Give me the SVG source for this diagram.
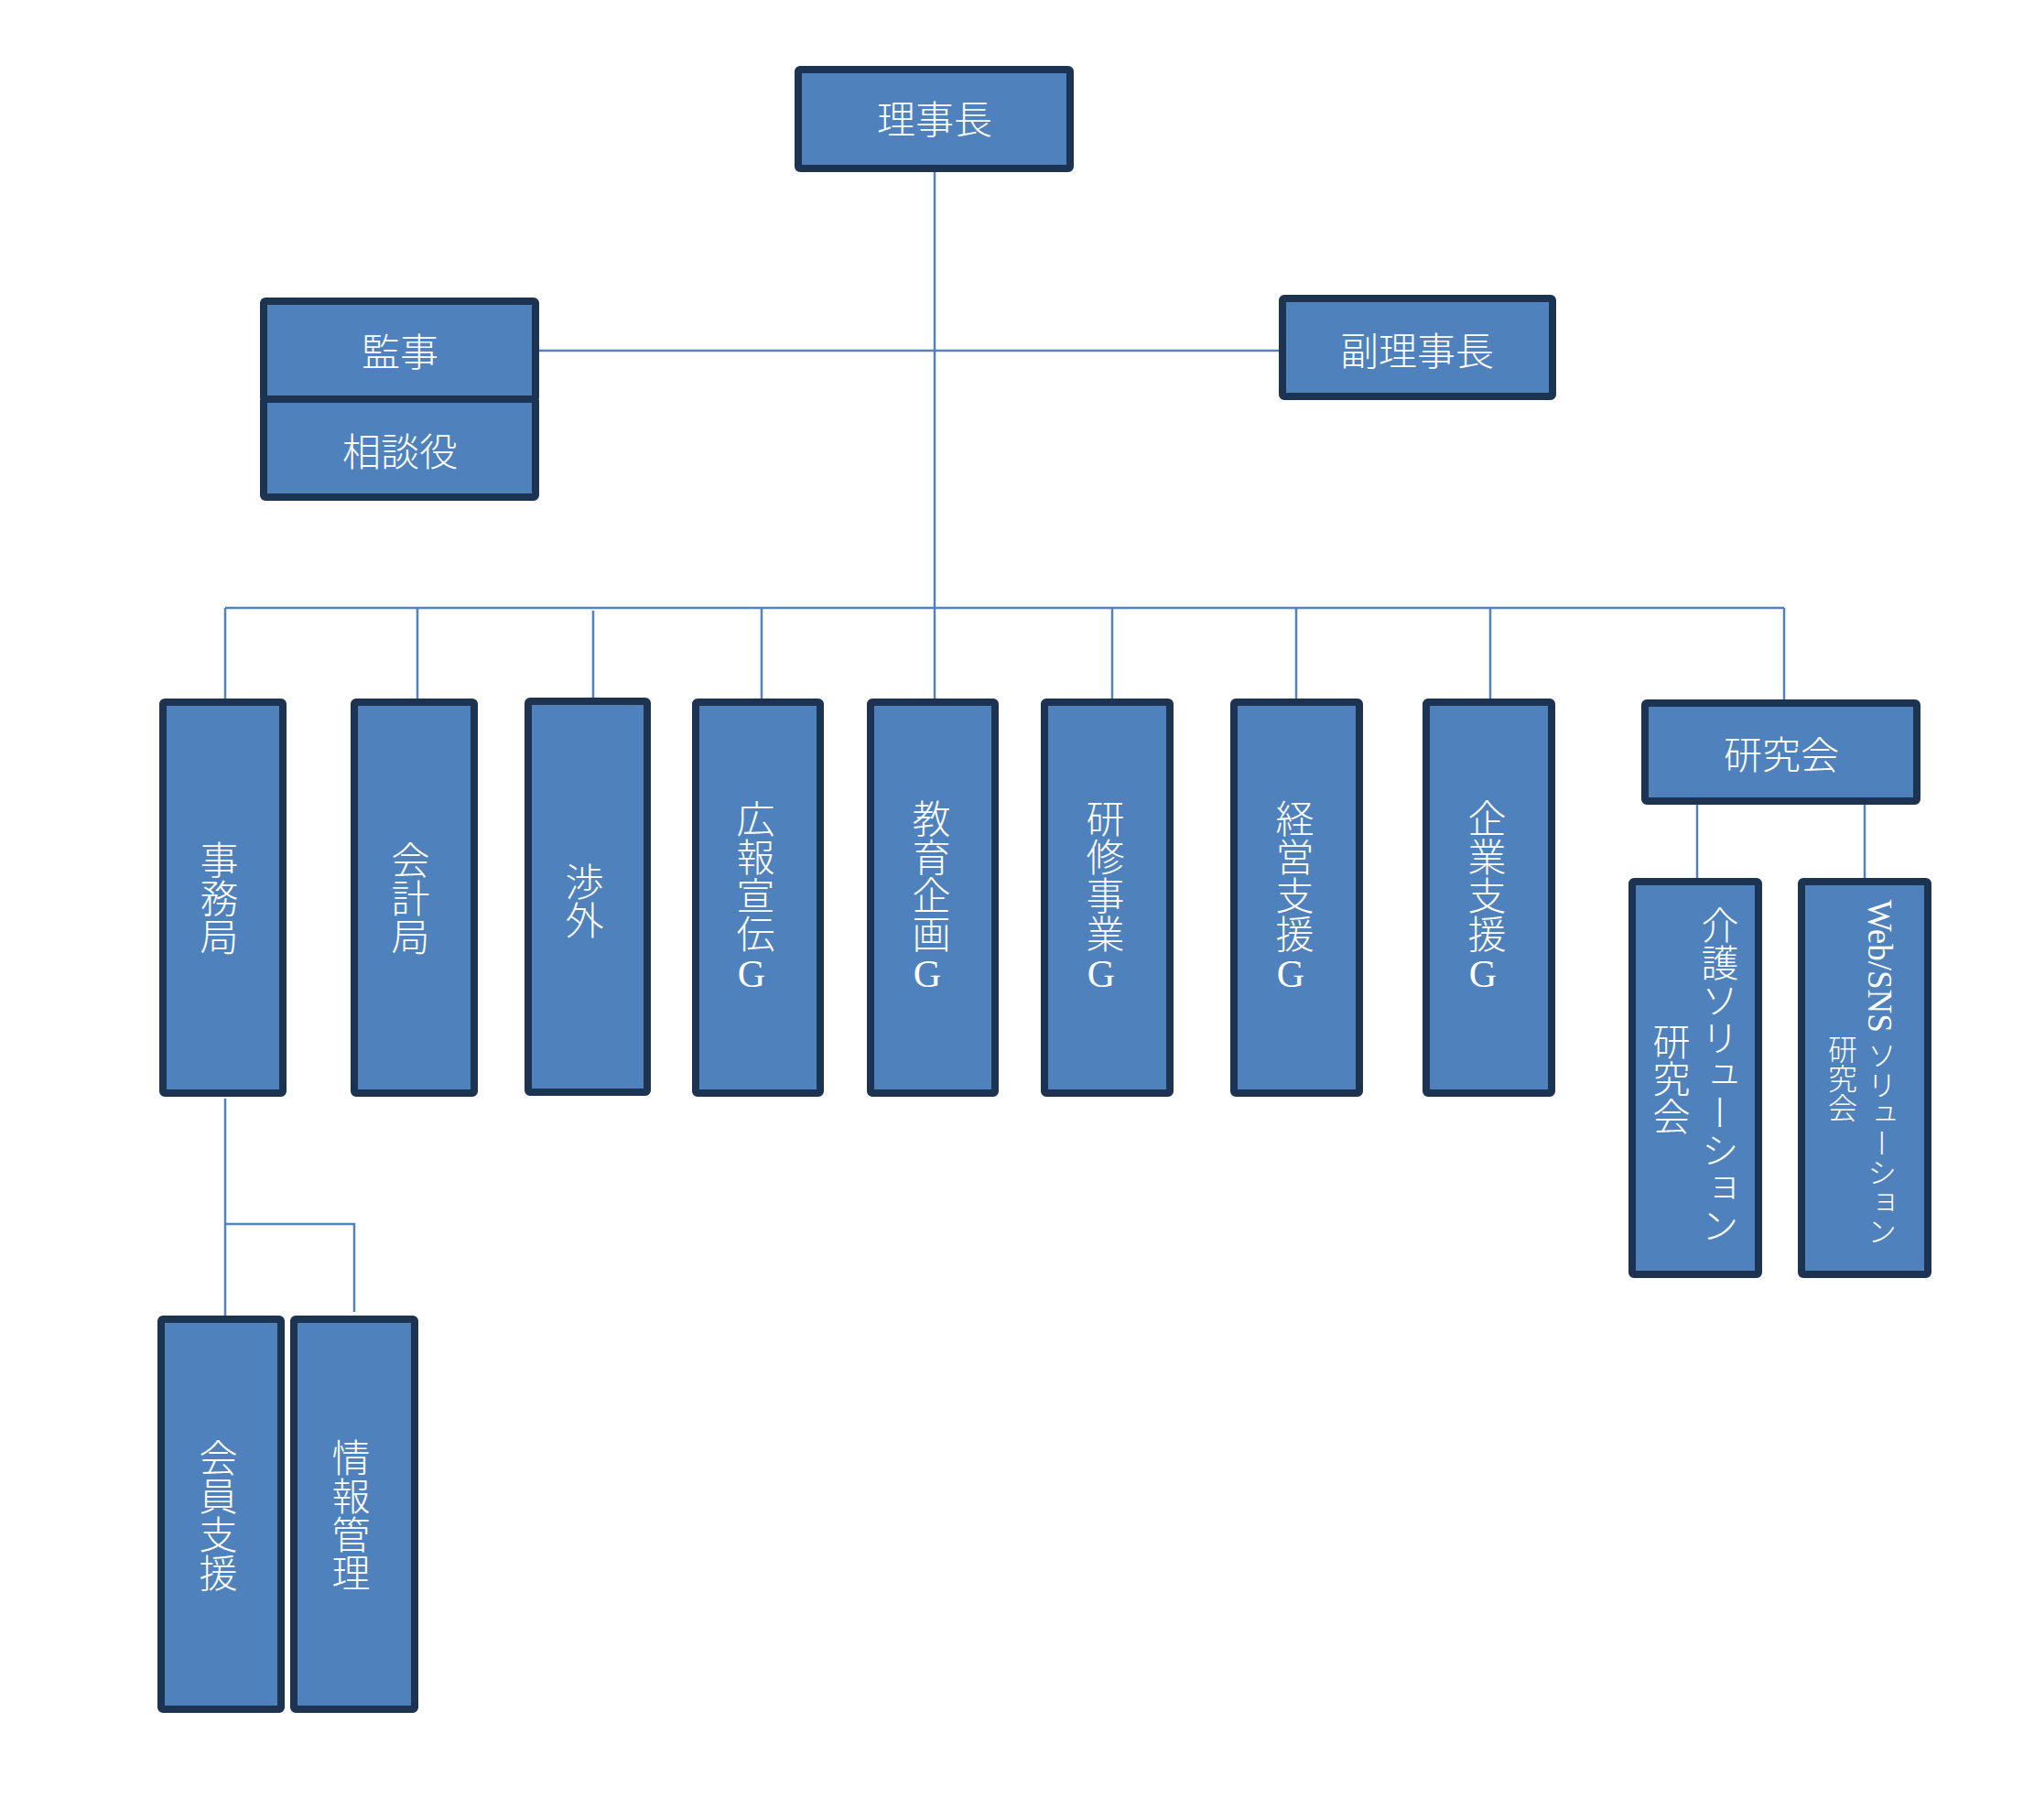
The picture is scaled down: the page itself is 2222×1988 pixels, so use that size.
<svg xmlns="http://www.w3.org/2000/svg" width="2222" height="1988" viewBox="0 0 2222 1988">
<style>
.box{fill:#4F81BD;stroke:#1C3352;stroke-width:8;stroke-linejoin:round}
.ln{stroke:#5282BE;stroke-width:2.5;fill:none}
.t{fill:#FFFFFF;font-family:"Liberation Serif","Noto Sans CJK JP",serif;font-size:42px;font-weight:300;text-anchor:middle}
.v{writing-mode:vertical-rl;text-orientation:upright}
.vm{writing-mode:vertical-rl;text-orientation:mixed}
</style>
<rect width="2222" height="1988" fill="#FFFFFF"/>
<g id="connectors">
<line class="ln" x1="1021" y1="188" x2="1021" y2="763"/>
<line class="ln" x1="589" y1="383" x2="1397" y2="383"/>
<line class="ln" x1="246" y1="664" x2="1949" y2="664"/>
<line class="ln" x1="246" y1="664" x2="246" y2="763"/>
<line class="ln" x1="456" y1="664" x2="456" y2="763"/>
<line class="ln" x1="648" y1="667" x2="648" y2="762"/>
<line class="ln" x1="832" y1="664" x2="832" y2="763"/>
<line class="ln" x1="1215" y1="664" x2="1215" y2="763"/>
<line class="ln" x1="1416" y1="664" x2="1416" y2="763"/>
<line class="ln" x1="1628" y1="664" x2="1628" y2="763"/>
<line class="ln" x1="1949" y1="664" x2="1949" y2="764"/>
<line class="ln" x1="1854" y1="879" x2="1854" y2="959"/>
<line class="ln" x1="2037" y1="879" x2="2037" y2="959"/>
<line class="ln" x1="246" y1="1200" x2="246" y2="1437"/>
<polyline class="ln" points="246,1337 387,1337 387,1433"/>
</g>
<g id="rijicho"><rect class="box" x="872" y="76" width="297" height="108" rx="2"/><text class="t" x="1021" y="146">理事長</text></g>
<g id="kanji"><rect class="box" x="288" y="329" width="297" height="107" rx="2"/><text class="t" x="437" y="400">監事</text></g>
<g id="sodanyaku"><rect class="box" x="288" y="436" width="297" height="107" rx="2"/><text class="t" x="437" y="509">相談役</text></g>
<g id="fukurijicho"><rect class="box" x="1401" y="326" width="295" height="107" rx="2"/><text class="t" x="1548" y="399">副理事長</text></g>
<g id="jimukyoku"><rect class="box" x="178" y="767" width="131" height="427" rx="2"/><text class="t v" x="235" y="981">事務局</text></g>
<g id="kaikeikyoku"><rect class="box" x="387" y="767" width="131" height="427" rx="2"/><text class="t v" x="444" y="981">会計局</text></g>
<g id="shogai"><rect class="box" x="577" y="766" width="130" height="427" rx="2"/><text class="t v" x="634" y="984">渉外</text></g>
<g id="kohosenden"><rect class="box" x="760" y="767" width="136" height="427" rx="2"/><text class="t v" x="821" y="980">広報宣伝G</text></g>
<g id="kyoikukikaku"><rect class="box" x="951" y="767" width="136" height="427" rx="2"/><text class="t v" x="1013" y="980">教育企画G</text></g>
<g id="kenshujigyo"><rect class="box" x="1141" y="767" width="137" height="427" rx="2"/><text class="t v" x="1203" y="980">研修事業G</text></g>
<g id="keieishien"><rect class="box" x="1348" y="767" width="137" height="427" rx="2"/><text class="t v" x="1410" y="980">経営支援G</text></g>
<g id="kigyoshien"><rect class="box" x="1558" y="767" width="137" height="427" rx="2"/><text class="t v" x="1620" y="980">企業支援G</text></g>
<g id="kenkyukai"><rect class="box" x="1797" y="768" width="297" height="107" rx="2"/><text class="t" x="1946" y="840">研究会</text></g>
<g id="kaigo"><rect class="box" x="1783" y="963" width="138" height="429" rx="2"/><text class="t vm" x="1875" y="1174" style="font-size:41px">介護ソリューション</text><text class="t vm" x="1822" y="1178" style="font-size:41px">研究会</text></g>
<g id="websns"><rect class="box" x="1968" y="963" width="138" height="429" rx="2"/><text class="t vm" x="2053" y="1172" style="font-size:32px"><tspan style="font-size:37px">Web/SNS </tspan>ソリューション</text><text class="t vm" x="2010" y="1178" style="font-size:32px">研究会</text></g>
<g id="kaiinshien"><rect class="box" x="176" y="1441" width="131" height="426" rx="2"/><text class="t v" x="234" y="1655">会員支援</text></g>
<g id="johokanri"><rect class="box" x="321" y="1441" width="132" height="426" rx="2"/><text class="t v" x="379" y="1655">情報管理</text></g>
</svg>
